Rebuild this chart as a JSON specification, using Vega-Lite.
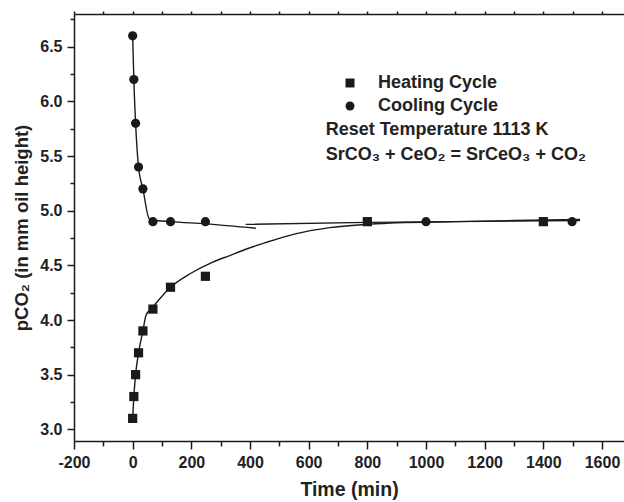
{
  "$schema": "https://vega.github.io/schema/vega-lite/v6.json",
  "autosize": "none",
  "width": 550,
  "height": 427,
  "padding": {"left": 74, "top": 14, "right": 0, "bottom": 61},
  "background": "white",
  "config": {
    "view": {"stroke": null},
    "font": "Liberation Sans",
    "axis": {
      "grid": false,
      "domainColor": "#1a1a1a",
      "domainWidth": 1.5,
      "tickColor": "#1a1a1a",
      "tickWidth": 1.5,
      "labelFont": "Liberation Sans",
      "labelFontWeight": "bold",
      "labelFontSize": 16,
      "labelColor": "#222222",
      "labelFlush": false,
      "titleFont": "Liberation Sans",
      "titleFontWeight": "bold",
      "titleFontSize": 18.5,
      "titleColor": "#222222"
    },
    "legend": {
      "labelFont": "Liberation Sans",
      "labelFontWeight": "bold",
      "labelFontSize": 18,
      "labelColor": "#222222"
    }
  },
  "datasets": {
    "pts": [
      {"t": 0, "p": 3.1, "cycle": "Heating Cycle"},
      {"t": 4, "p": 3.3, "cycle": "Heating Cycle"},
      {"t": 10, "p": 3.5, "cycle": "Heating Cycle"},
      {"t": 20, "p": 3.7, "cycle": "Heating Cycle"},
      {"t": 35, "p": 3.9, "cycle": "Heating Cycle"},
      {"t": 69, "p": 4.1, "cycle": "Heating Cycle"},
      {"t": 129, "p": 4.3, "cycle": "Heating Cycle"},
      {"t": 248, "p": 4.4, "cycle": "Heating Cycle"},
      {"t": 800, "p": 4.9, "cycle": "Heating Cycle"},
      {"t": 1400, "p": 4.9, "cycle": "Heating Cycle"},
      {"t": 0, "p": 6.6, "cycle": "Cooling Cycle"},
      {"t": 4, "p": 6.2, "cycle": "Cooling Cycle"},
      {"t": 10, "p": 5.8, "cycle": "Cooling Cycle"},
      {"t": 20, "p": 5.4, "cycle": "Cooling Cycle"},
      {"t": 35, "p": 5.2, "cycle": "Cooling Cycle"},
      {"t": 69, "p": 4.9, "cycle": "Cooling Cycle"},
      {"t": 129, "p": 4.9, "cycle": "Cooling Cycle"},
      {"t": 248, "p": 4.9, "cycle": "Cooling Cycle"},
      {"t": 1000, "p": 4.9, "cycle": "Cooling Cycle"},
      {"t": 1498, "p": 4.9, "cycle": "Cooling Cycle"}
    ],
    "fits": [
      {"t": 0, "p": 3.1, "curve": "heat"},
      {"t": 4, "p": 3.3, "curve": "heat"},
      {"t": 10, "p": 3.5, "curve": "heat"},
      {"t": 20, "p": 3.7, "curve": "heat"},
      {"t": 35, "p": 3.9, "curve": "heat"},
      {"t": 45, "p": 4.04, "curve": "heat"},
      {"t": 69, "p": 4.12, "curve": "heat"},
      {"t": 129, "p": 4.3, "curve": "heat"},
      {"t": 200, "p": 4.43, "curve": "heat"},
      {"t": 273, "p": 4.53, "curve": "heat"},
      {"t": 331, "p": 4.59, "curve": "heat"},
      {"t": 388, "p": 4.65, "curve": "heat"},
      {"t": 480, "p": 4.73, "curve": "heat"},
      {"t": 558, "p": 4.79, "curve": "heat"},
      {"t": 672, "p": 4.845, "curve": "heat"},
      {"t": 800, "p": 4.875, "curve": "heat"},
      {"t": 900, "p": 4.89, "curve": "heat"},
      {"t": 1100, "p": 4.9, "curve": "heat"},
      {"t": 1300, "p": 4.91, "curve": "heat"},
      {"t": 1525, "p": 4.92, "curve": "heat"},
      {"t": 0, "p": 6.6, "curve": "cool"},
      {"t": 4, "p": 6.2, "curve": "cool"},
      {"t": 10, "p": 5.8, "curve": "cool"},
      {"t": 20, "p": 5.4, "curve": "cool"},
      {"t": 35, "p": 5.2, "curve": "cool"},
      {"t": 56, "p": 4.93, "curve": "cool"},
      {"t": 69, "p": 4.915, "curve": "cool"},
      {"t": 129, "p": 4.9, "curve": "cool"},
      {"t": 250, "p": 4.88, "curve": "cool"},
      {"t": 420, "p": 4.84, "curve": "cool"},
      {"t": 385, "p": 4.875, "curve": "plateau"},
      {"t": 800, "p": 4.893, "curve": "plateau"},
      {"t": 1000, "p": 4.898, "curve": "plateau"},
      {"t": 1525, "p": 4.91, "curve": "plateau"}
    ]
  },
  "resolve": {"axis": {"x": "independent", "y": "independent"}},
  "layer": [
    {
      "data": {"name": "fits"},
      "mark": {"type": "line", "color": "#1a1a1a", "strokeWidth": 1.4, "interpolate": "monotone"},
      "encoding": {
        "x": {"field": "t", "type": "quantitative", "scale": {"domain": [-200, 1675], "nice": false, "zero": false},
          "axis": {"orient": "bottom", "values": [-100, 100, 300, 500, 700, 900, 1100, 1300, 1500], "tickSize": 5, "labels": false, "title": null, "domain": false}},
        "y": {"field": "p", "type": "quantitative", "scale": {"domain": [2.893, 6.8], "nice": false, "zero": false},
          "axis": {"orient": "left", "values": [3.25, 3.75, 4.25, 4.75, 5.25, 5.75, 6.25, 6.75], "tickSize": 4, "labels": false, "title": null, "domain": false}},
        "detail": {"field": "curve"}
      }
    },
    {
      "data": {"name": "pts"},
      "mark": {"type": "point", "filled": true, "opacity": 1, "color": "#1a1a1a", "size": 85},
      "encoding": {
        "x": {"field": "t", "type": "quantitative",
          "axis": {"orient": "bottom", "values": [-200, 0, 200, 400, 600, 800, 1000, 1200, 1400, 1600], "labelExpr": "'' + datum.value", "tickSize": 8, "labelPadding": 5, "title": "Time (min)", "titleFontSize": 19.5, "titlePadding": 10}},
        "y": {"field": "p", "type": "quantitative",
          "axis": {"orient": "left", "values": [3, 3.5, 4, 4.5, 5, 5.5, 6, 6.5], "format": ".1f", "tickSize": 7, "labelPadding": 5, "title": "pCO₂ (in mm oil height)", "titlePadding": 8}},
        "shape": {"field": "cycle", "type": "nominal",
          "scale": {"domain": ["Heating Cycle", "Cooling Cycle"], "range": ["square", "circle"]},
          "legend": {"title": null, "orient": "none", "legendX": 267, "legendY": 60, "padding": 0, "symbolSize": 81, "symbolFillColor": "#1a1a1a", "symbolStrokeWidth": 0, "labelOffset": 19, "rowPadding": 5}}
      }
    },
    {
      "data": {"values": [{}]},
      "mark": {"type": "text", "text": "Reset Temperature 1113 K", "align": "left", "baseline": "middle", "font": "Liberation Sans", "fontWeight": "bold", "fontSize": 18, "color": "#222222"},
      "encoding": {
        "x": {"datum": 658, "type": "quantitative", "axis": {"orient": "top", "values": [-200, -100, 0, 100, 200, 300, 400, 500, 600, 700, 800, 900, 1000, 1100, 1200, 1300, 1400, 1500, 1600], "tickSize": 3, "labels": false, "title": null}},
        "y": {"datum": 5.74, "type": "quantitative", "axis": null}
      }
    },
    {
      "data": {"values": [{}]},
      "mark": {"type": "text", "text": "SrCO₃ + CeO₂ = SrCeO₃ + CO₂", "align": "left", "baseline": "middle", "font": "Liberation Sans", "fontWeight": "bold", "fontSize": 18, "color": "#222222"},
      "encoding": {
        "x": {"datum": 658, "type": "quantitative", "axis": null},
        "y": {"datum": 5.51, "type": "quantitative", "axis": null}
      }
    }
  ]
}
